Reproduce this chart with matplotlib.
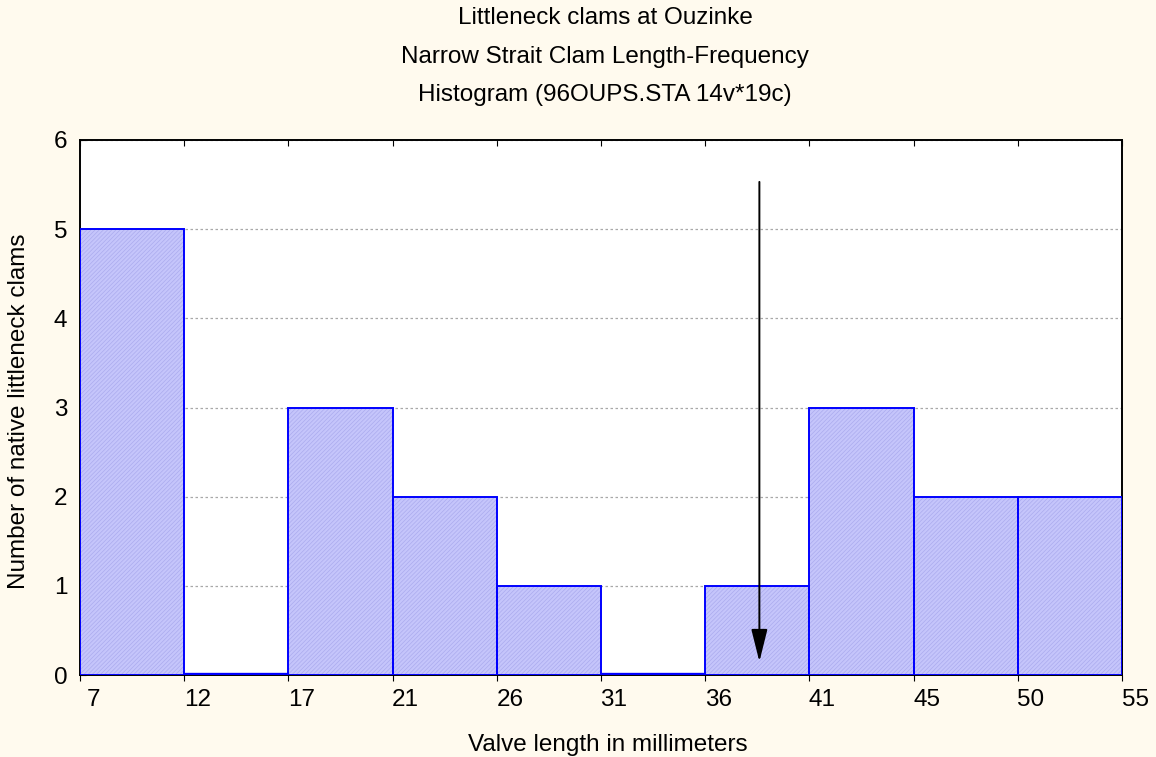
import matplotlib
matplotlib.use("Agg")
import matplotlib.pyplot as plt
from matplotlib.patches import FancyArrowPatch
from matplotlib.transforms import ScaledTranslation

plt.rcParams['font.family'] = ['Liberation Sans', 'DejaVu Sans']
plt.rcParams['hatch.linewidth'] = 0.5

# Bin edges (mm) and clam counts per bin
bin_edges = [7, 12, 17, 21, 26, 31, 36, 41, 45, 50, 55]
counts = [5, 0, 3, 2, 1, 0, 1, 3, 2, 2]
marker_length = 38.6  # arrow marker position (mm)
arrow_top, arrow_bottom = 5.53, 0.15

title_lines = ["Littleneck clams at Ouzinke",
               "Narrow Strait Clam Length-Frequency",
               "Histogram (96OUPS.STA 14v*19c)"]

FS = 17.5
bg = '#fffaee'
fig = plt.figure(figsize=(11.56, 7.57), dpi=100, facecolor=bg)
ax = fig.add_axes([80/1156, 1 - 675/757, (1122-80)/1156, (675-140)/757])
ax.set_facecolor('white')

# bars drawn on an equal-width index scale, labelled by bin edges
n = len(counts)
for i, c in enumerate(counts):
    ax.bar(i, c, width=1.0, align='edge', facecolor='#c5c5fb',
           edgecolor='#ababee', linewidth=0, hatch='////////', zorder=3)
    ax.bar(i, c, width=1.0, align='edge', facecolor='none',
           edgecolor='#0000ff', linewidth=1.4, zorder=4)
    if c == 0:
        ax.plot([i, i + 1], [0.012, 0.012], color='#0000ff', lw=2.4, zorder=4,
                solid_capstyle='butt')

# map marker length onto index scale
def to_idx(v):
    for k in range(n):
        a, b = bin_edges[k], bin_edges[k + 1]
        if a <= v <= b:
            return k + (v - a) / (b - a)
    return n

xa = to_idx(marker_length)
ax.add_patch(FancyArrowPatch((xa, arrow_top), (xa, arrow_bottom),
                             arrowstyle='-|>,head_length=20,head_width=5',
                             color='black', lw=1.4, zorder=6,
                             mutation_scale=1, shrinkA=0, shrinkB=0))

ax.set_xlim(0, n)
ax.set_ylim(0, 6)
ax.set_xticks(range(n + 1))
ax.set_xticklabels([str(e) for e in bin_edges])
ax.set_yticks(range(7))
ax.yaxis.grid(True, color='#a8a8a8', linestyle=(0, (2, 2)), lw=0.9)
ax.set_axisbelow(True)
for s in ax.spines.values():
    s.set_linewidth(1.4)
    s.set_color('black')
ax.tick_params(axis='x', direction='out', length=4, pad=6, labelsize=FS)
ax.tick_params(axis='y', direction='in', length=4, pad=9, labelsize=FS)

# top ticks (inward)
sec = ax.secondary_xaxis('top')
sec.set_xticks(range(n + 1))
sec.tick_params(direction='in', length=4, labeltop=False)
sec.spines['top'].set_visible(False)

# shift bottom labels to the right of each edge
shift = ScaledTranslation(13/100, 0, fig.dpi_scale_trans)
for lab in ax.get_xticklabels():
    lab.set_transform(lab.get_transform() + shift)

ax.set_xlabel('Valve length in millimeters', fontsize=FS, va='center')
ax.set_ylabel('Number of native littleneck clams', fontsize=FS, va='center')
ax.xaxis.set_label_coords((608-80)/1042, -(745-675)/535)
ax.yaxis.set_label_coords(-(80-19)/1042, (675-411)/535)

for k, t in enumerate(title_lines):
    fig.text(605/1156, 1 - (18 + 38.5*k)/757, t, ha='center', va='center', fontsize=FS)

fig.savefig('out.png', dpi=100, facecolor=bg)
